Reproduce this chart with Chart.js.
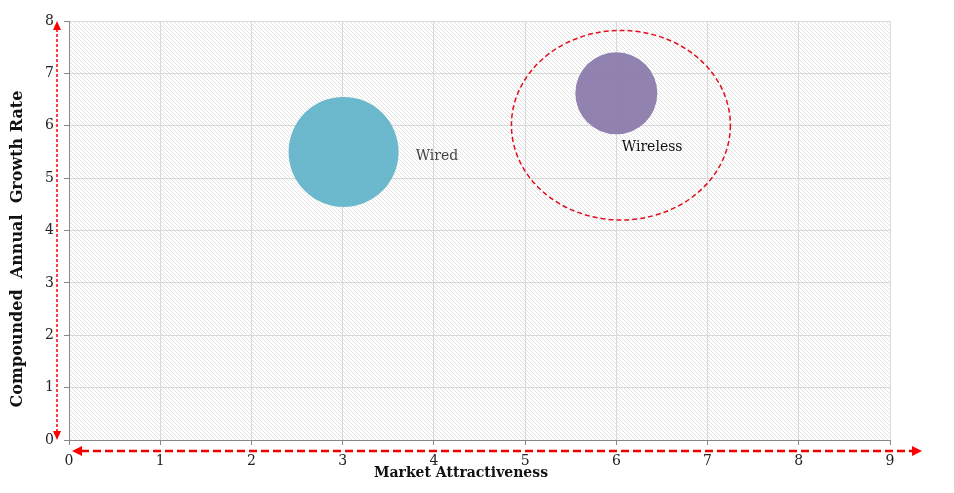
<!DOCTYPE html>
<html>
<head>
<meta charset="utf-8">
<script src="https://cdn.jsdelivr.net/npm/chart.js@4/dist/chart.umd.min.js"></script>
<style>
  html, body { margin: 0; padding: 0; background: #fff; }
  #wrap { width: 954px; height: 493px; }
</style>
</head>
<body>
<div id="wrap"><canvas id="chart" width="954" height="493"></canvas></div>
<script>
// segments on the chart
const segments = ["Wired", "Wireless"];
const attractiveness = [3.01, 6.0];
const growthRate = [5.5, 6.62];
const bubbleRadius = [55, 41];
const bubbleColors = ["rgba(100,180,201,0.95)", "rgba(140,123,172,0.95)"];

// where the segment names sit (data units)
const labelX = [3.8, 6.06];
const labelY = [5.42, 5.59];
const labelColors = ["#444", "#111"];

// dashed highlight around Wireless (data units)
const ellipseCenter = [6.05, 6.01];
const ellipseRadii = [1.2, 1.81];

const xTicks = [0, 1, 2, 3, 4, 5, 6, 7, 8, 9];
const yTicks = [0, 1, 2, 3, 4, 5, 6, 7, 8];

const makeHatch = () => {
  const c = document.createElement("canvas");
  c.width = 4;
  c.height = 4;
  const g = c.getContext("2d");
  g.fillStyle = "#fff";
  g.fillRect(0, 0, 4, 4);
  g.strokeStyle = "#e2e2e2";
  g.lineWidth = 1;
  g.beginPath();
  g.moveTo(0, 0); g.lineTo(4, 4);
  g.moveTo(-1, 3); g.lineTo(1, 5);
  g.moveTo(3, -1); g.lineTo(5, 1);
  g.stroke();
  return g.createPattern(c, "repeat");
};

const arrowHead = (ctx, x, y, dir) => {
  ctx.beginPath();
  if (dir === "up") { ctx.moveTo(x, y); ctx.lineTo(x - 4, y + 9); ctx.lineTo(x + 4, y + 9); }
  if (dir === "down") { ctx.moveTo(x, y); ctx.lineTo(x - 4, y - 9); ctx.lineTo(x + 4, y - 9); }
  if (dir === "left") { ctx.moveTo(x, y); ctx.lineTo(x + 10, y - 5); ctx.lineTo(x + 10, y + 5); }
  if (dir === "right") { ctx.moveTo(x, y); ctx.lineTo(x - 10, y - 5); ctx.lineTo(x - 10, y + 5); }
  ctx.closePath();
  ctx.fill();
};

const decorations = {
  id: "decorations",
  beforeDraw(chart) {
    const { ctx, chartArea: a } = chart;
    ctx.save();
    ctx.fillStyle = makeHatch();
    ctx.fillRect(a.left, a.top, a.right - a.left, a.bottom - a.top);
    ctx.restore();
  },
  afterDatasetsDraw(chart) {
    const { ctx, chartArea: a, scales } = chart;
    const xs = scales.x, ys = scales.y;
    ctx.save();

    // highlight ellipse
    const cx = xs.getPixelForValue(ellipseCenter[0]);
    const cy = ys.getPixelForValue(ellipseCenter[1]);
    const rx = Math.abs(xs.getPixelForValue(ellipseCenter[0] + ellipseRadii[0]) - cx);
    const ry = Math.abs(ys.getPixelForValue(ellipseCenter[1] + ellipseRadii[1]) - cy);
    ctx.strokeStyle = "#e0101c";
    ctx.lineWidth = 1.5;
    ctx.setLineDash([5, 3]);
    ctx.beginPath();
    ctx.ellipse(cx, cy, rx, ry, 0, 0, Math.PI * 2);
    ctx.stroke();

    // segment names
    ctx.setLineDash([]);
    ctx.font = "14px 'DejaVu Serif'";
    ctx.textBaseline = "middle";
    ctx.textAlign = "left";
    segments.forEach((s, i) => {
      ctx.fillStyle = labelColors[i];
      ctx.fillText(s, xs.getPixelForValue(labelX[i]), ys.getPixelForValue(labelY[i]));
    });

    // red axis arrows
    ctx.fillStyle = "#f00";
    ctx.strokeStyle = "#f00";
    const vx = a.left - 12;
    ctx.lineWidth = 1.5;
    ctx.setLineDash([3, 2]);
    ctx.beginPath();
    ctx.moveTo(vx, a.top + 8);
    ctx.lineTo(vx, a.bottom - 8);
    ctx.stroke();
    ctx.setLineDash([]);
    arrowHead(ctx, vx, a.top, "up");
    arrowHead(ctx, vx, a.bottom, "down");

    const hy = a.bottom + 11;
    ctx.strokeStyle = "#e00";
    ctx.lineWidth = 2.5;
    ctx.setLineDash([8, 4]);
    ctx.beginPath();
    ctx.moveTo(a.left + 12, hy);
    ctx.lineTo(a.right + 22, hy);
    ctx.stroke();
    ctx.setLineDash([]);
    ctx.fillStyle = "#f00";
    arrowHead(ctx, a.left + 3, hy, "left");
    arrowHead(ctx, a.right + 32, hy, "right");

    // y axis title, drawn a bit below centre like the original
    ctx.fillStyle = "#111";
    ctx.font = "bold 16px 'DejaVu Serif'";
    ctx.textAlign = "center";
    ctx.textBaseline = "middle";
    ctx.translate(18, 249);
    ctx.rotate(-Math.PI / 2);
    ctx.fillText("Compounded  Annual  Growth Rate", 0, 0);
    ctx.setTransform(1, 0, 0, 1, 0, 0);

    // x axis title
    ctx.font = "bold 14px 'DejaVu Serif'";
    ctx.fillText("Market Attractiveness", 461, 473);

    ctx.restore();
  }
};

new Chart(document.getElementById("chart").getContext("2d"), {
  type: "bubble",
  data: {
    datasets: segments.map((s, i) => ({
      label: s,
      data: [{ x: attractiveness[i], y: growthRate[i], r: bubbleRadius[i] }],
      backgroundColor: bubbleColors[i],
      borderWidth: 0,
      hoverRadius: 0,
    })),
  },
  options: {
    responsive: false,
    animation: false,
    events: [],
    layout: { autoPadding: false, padding: { left: 0, right: 64, top: 21, bottom: 0 } },
    plugins: { legend: { display: false }, tooltip: { enabled: false } },
    scales: {
      x: {
        type: "linear",
        min: 0,
        max: 9,
        afterBuildTicks: (scale) => { scale.ticks = xTicks.map((v) => ({ value: v })); },
        afterFit: (scale) => { scale.height = 53; },
        grid: { color: "#d9d9d9", tickLength: 5, tickColor: "#888" },
        border: { color: "#888", width: 1 },
        ticks: { color: "#222", font: { family: "DejaVu Serif", size: 14 }, padding: 8 },
      },
      y: {
        type: "linear",
        min: 0,
        max: 8,
        afterBuildTicks: (scale) => { scale.ticks = yTicks.map((v) => ({ value: v })); },
        afterFit: (scale) => { scale.width = 69; },
        grid: { color: "#d9d9d9", tickLength: 5, tickColor: "#888" },
        border: { color: "#888", width: 1 },
        ticks: { color: "#222", font: { family: "DejaVu Serif", size: 14 }, padding: 10 },
      },
    },
  },
  plugins: [decorations],
});
</script>
</body>
</html>
